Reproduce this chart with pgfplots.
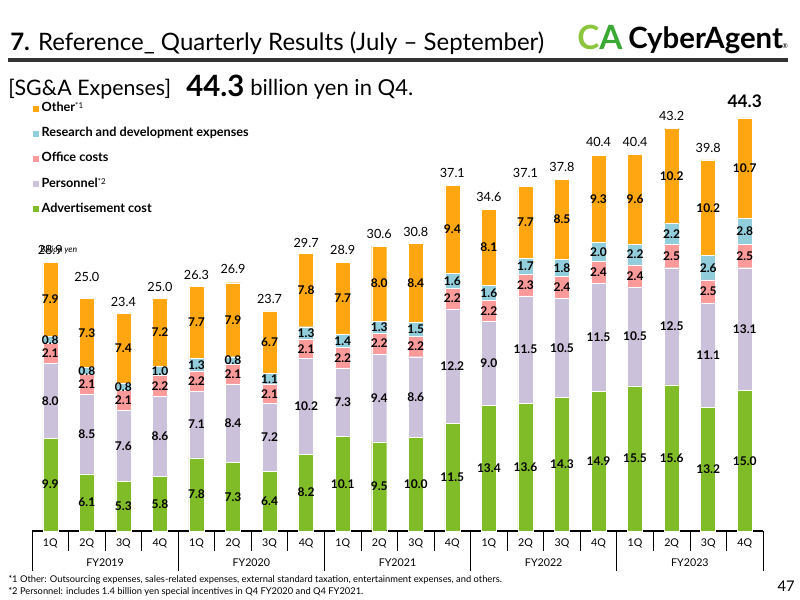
\documentclass[border=0pt]{standalone}
\usepackage{pgfplots}
\pgfplotsset{compat=1.18}
\usepackage{pgfplotstable}
\usepackage{fontspec}
\setmainfont{Lato}

\definecolor{cOther}{HTML}{FFA611}
\definecolor{cRD}{HTML}{92CDDC}
\definecolor{cOffice}{HTML}{FF9A9A}
\definecolor{cPers}{HTML}{CCC1DA}
\definecolor{cAdv}{HTML}{80BB28}
\definecolor{caLight}{HTML}{8CC63F}
\definecolor{caDark}{HTML}{3AAA35}
\definecolor{rulegray}{HTML}{333333}

% SG&A expenses by quarter (billion yen)
\pgfplotstableread{
x  adv  pers office rd  other total
0  9.9  8.0  2.1   0.8  7.9   28.9
1  6.1  8.5  2.1   0.8  7.3   25.0
2  5.3  7.6  2.1   0.8  7.4   23.4
3  5.8  8.6  2.2   1.0  7.2   25.0
4  7.8  7.1  2.2   1.3  7.7   26.3
5  7.3  8.4  2.1   0.8  7.9   26.9
6  6.4  7.2  2.1   1.1  6.7   23.7
7  8.2  10.2 2.1   1.3  7.8   29.7
8  10.1 7.3  2.2   1.4  7.7   28.9
9  9.5  9.4  2.2   1.3  8.0   30.6
10 10.0 8.6  2.2   1.5  8.4   30.8
11 11.5 12.2 2.2   1.6  9.4   37.1
12 13.4 9.0  2.2   1.6  8.1   34.6
13 13.6 11.5 2.3   1.7  7.7   37.1
14 14.3 10.5 2.4   1.8  8.5   37.8
15 14.9 11.5 2.4   2.0  9.3   40.4
16 15.5 10.5 2.4   2.2  9.6   40.4
17 15.6 12.5 2.5   2.2  10.2  43.2
18 13.2 11.1 2.5   2.6  10.2  39.8
19 15.0 13.1 2.5   2.8  10.7  44.3
}\sgna

\pgfplotsset{
  frame/.style={
    at={(24pt,-398.25pt)}, anchor=south west,
    scale only axis, width=548.25pt, y=7.0275pt,
    xmin=-0.5, xmax=19.5, ymin=0, ymax=46,
    clip=false,
  },
  % segment values, centred in their own segment
  seg/.style={
    draw=white, line width=0.3pt,
    point meta=explicit symbolic,
    nodes near coords={\pgfplotspointmeta},
    every node near coord/.style={
      anchor=center, inner sep=0pt, text=black,
      font=\fontsize{9}{10}\selectfont\bfseries}
  },
  totlab/.style={
    draw=none, mark=none,
    point meta=explicit symbolic,
    nodes near coords={\pgfplotspointmeta},
    every node near coord/.style={anchor=center, inner sep=0pt, text=black,
      font=\fontsize{9.5}{10}\selectfont, yshift=#1}
  },
}

\begin{document}
\begin{tikzpicture}
\begin{scope}[x=0.75pt,y=-0.75pt]
\useasboundingbox[fill=white] (0,0) rectangle (800,600);
% heading
\node[anchor=base west,inner sep=0pt,font=\fontsize{18}{20}\selectfont] at (10,50)
  {\textbf{7.} Reference\_ Quarterly Results (July – September)};
\draw[rulegray,line width=3pt] (8,60) -- (788,60);
% company mark
\node[anchor=base west,inner sep=0pt,font=\fontsize{25}{26}\selectfont\bfseries] at (577,49)
  {\textcolor{caLight}{C}\textcolor{caDark}{A}};
\node[anchor=base west,inner sep=0pt,font=\fontsize{22}{24}\selectfont\bfseries] at (628,48) {CyberAgent};
\node[anchor=base west,inner sep=0pt,font=\fontsize{5}{5}\selectfont] at (782,48) {®};
% headline
\node[anchor=base west,inner sep=0pt,font=\fontsize{16}{18}\selectfont] at (8,95) {[SG\&A Expenses]};
\node[anchor=base west,inner sep=0pt,font=\fontsize{22}{24}\selectfont\bfseries] at (186,96) {44.3};
\node[anchor=base west,inner sep=0pt,font=\fontsize{16.5}{18}\selectfont] at (250,95) {billion yen in Q4.};
% unit
\node[anchor=west,inner sep=0pt,font=\fontsize{6.5}{7}\selectfont\itshape] at (40,250) {Billion yen};
% notes
\node[anchor=base west,inner sep=0pt,font=\fontsize{7}{8}\selectfont] at (8,582)
  {*1 Other: Outsourcing expenses, sales-related expenses, external standard taxation, entertainment expenses, and others.};
\node[anchor=base west,inner sep=0pt,font=\fontsize{7}{8}\selectfont] at (8,594)
  {*2 Personnel: includes 1.4 billion yen special incentives in Q4 FY2020 and Q4 FY2021.};
\node[anchor=base east,inner sep=0pt,font=\fontsize{11}{12}\selectfont] at (795,591) {47};
\end{scope}

\begin{axis}[
  frame,
  ybar stacked, bar width=11.25pt,
  axis line style={draw=none}, tick style={draw=none},
  ytick=\empty,
  xtick={0,...,19},
  xticklabels={1Q,2Q,3Q,4Q,1Q,2Q,3Q,4Q,1Q,2Q,3Q,4Q,1Q,2Q,3Q,4Q,1Q,2Q,3Q,4Q},
  xticklabel style={anchor=center, yshift=-9pt, inner sep=0pt, font=\fontsize{8}{9}\selectfont},
  legend style={at={(rel axis cs:0,1)}, anchor=north west, draw=none, fill=none,
    inner sep=0pt, row sep=6.9pt,
    nodes={inner sep=1.5pt, text height=7pt, text depth=2pt,
      font=\fontsize{9.5}{10}\selectfont\bfseries}},
  legend cell align=left,
  reverse legend,
  legend image code/.code={\fill[#1] (0pt,-2.6pt) rectangle (5.2pt,2.6pt);},
]
\addplot[seg, fill=cAdv] table[x=x, y=adv, meta=adv] {\sgna};
\addlegendentry{Advertisement cost}
\addplot[seg, fill=cPers] table[x=x, y=pers, meta=pers] {\sgna};
\addlegendentry{Personnel{\fontsize{6}{6}\selectfont\mdseries\raisebox{2pt}{*2}}}
\addplot[seg, fill=cOffice] table[x=x, y=office, meta=office] {\sgna};
\addlegendentry{Office costs}
\addplot[seg, fill=cRD] table[x=x, y=rd, meta=rd] {\sgna};
\addlegendentry{Research and development expenses}
\addplot[seg, fill=cOther] table[x=x, y=other, meta=other] {\sgna};
\addlegendentry{Other{\fontsize{6}{6}\selectfont\mdseries\raisebox{2pt}{*1}}}
% category axis with quarter and fiscal-year dividers
\draw[black,line width=0.8pt] (axis cs:-0.5,0) -- (axis cs:19.5,0);
\pgfplotsinvokeforeach{0.5,1.5,2.5,4.5,5.5,6.5,8.5,9.5,10.5,12.5,13.5,14.5,16.5,17.5,18.5}{
  \draw[black,line width=0.6pt] (axis cs:#1,0) -- ([yshift=-15pt]axis cs:#1,0);}
\pgfplotsinvokeforeach{-0.5,3.5,7.5,11.5,15.5,19.5}{
  \draw[black,line width=0.6pt] (axis cs:#1,0) -- ([yshift=-30pt]axis cs:#1,0);}
\node[font=\fontsize{8}{9}\selectfont] at ([yshift=-24pt]axis cs:1.5,0) {FY2019};
\node[font=\fontsize{8}{9}\selectfont] at ([yshift=-24pt]axis cs:5.5,0) {FY2020};
\node[font=\fontsize{8}{9}\selectfont] at ([yshift=-24pt]axis cs:9.5,0) {FY2021};
\node[font=\fontsize{8}{9}\selectfont] at ([yshift=-24pt]axis cs:13.5,0) {FY2022};
\node[font=\fontsize{8}{9}\selectfont] at ([yshift=-24pt]axis cs:17.5,0) {FY2023};
\end{axis}

% quarter totals, set above each stack at their own value
\begin{axis}[frame, hide axis]
\addplot[totlab=7.5pt, restrict x to domain=0:0] table[x=x, y=total, meta=total] {\sgna};
\addplot[totlab=15pt, restrict x to domain=1:1] table[x=x, y=total, meta=total] {\sgna};
\addplot[totlab=7.5pt, restrict x to domain=2:18] table[x=x, y=total, meta=total] {\sgna};
\addplot[totlab=11pt, restrict x to domain=19:19,
  every node near coord/.append style={font=\fontsize{13}{14}\selectfont\bfseries}]
  table[x=x, y=total, meta=total] {\sgna};
\end{axis}
\end{tikzpicture}
\end{document}
